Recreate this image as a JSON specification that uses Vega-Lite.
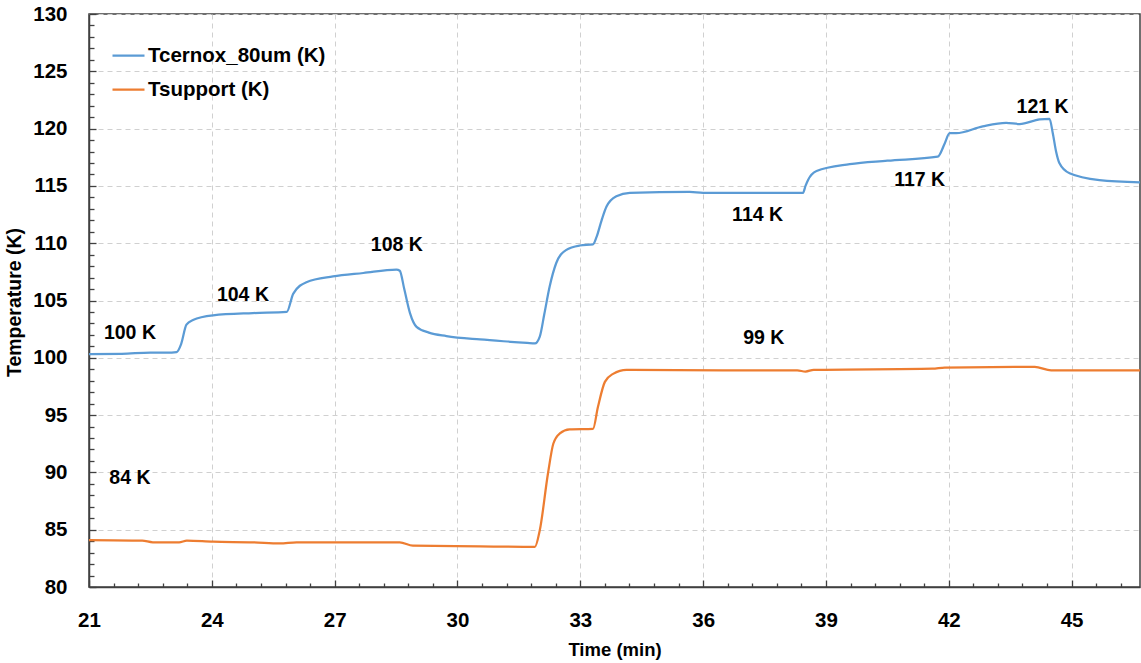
{
  "$schema": "https://vega.github.io/schema/vega-lite/v6.json",
  "autosize": {"type": "none"},
  "width": 1051,
  "height": 573,
  "padding": {"left": 89, "top": 14, "right": 1, "bottom": 76},
  "background": "white",
  "config": {
    "font": "Liberation Sans",
    "view": {"stroke": "#404040", "strokeWidth": 1.5},
    "axis": {
      "labelFont": "Liberation Sans", "labelFontWeight": "bold", "labelFontSize": 20.5, "labelColor": "#000000", "labelFlush": false,
      "titleFont": "Liberation Sans", "titleFontWeight": "bold", "titleFontSize": 18.5, "titleColor": "#000000",
      "domainColor": "#404040", "domainWidth": 1.5, "tickColor": "#404040", "tickWidth": 1.3,
      "gridColor": "#d0d0d0", "gridDash": [5, 4], "gridWidth": 1
    }
  },
  "datasets": {
    "lines": [
      {"t": 21.0, "T": 100.33, "series": "Tcernox_80um (K)"},
      {"t": 21.8, "T": 100.35, "series": "Tcernox_80um (K)"},
      {"t": 22.5, "T": 100.45, "series": "Tcernox_80um (K)"},
      {"t": 22.9, "T": 100.45, "series": "Tcernox_80um (K)"},
      {"t": 23.14, "T": 100.5, "series": "Tcernox_80um (K)"},
      {"t": 23.25, "T": 101.2, "series": "Tcernox_80um (K)"},
      {"t": 23.38, "T": 102.9, "series": "Tcernox_80um (K)"},
      {"t": 23.54, "T": 103.3, "series": "Tcernox_80um (K)"},
      {"t": 24.03, "T": 103.7, "series": "Tcernox_80um (K)"},
      {"t": 25.0, "T": 103.9, "series": "Tcernox_80um (K)"},
      {"t": 25.83, "T": 104.0, "series": "Tcernox_80um (K)"},
      {"t": 25.99, "T": 105.6, "series": "Tcernox_80um (K)"},
      {"t": 26.31, "T": 106.6, "series": "Tcernox_80um (K)"},
      {"t": 26.96, "T": 107.1, "series": "Tcernox_80um (K)"},
      {"t": 27.7, "T": 107.4, "series": "Tcernox_80um (K)"},
      {"t": 28.51, "T": 107.7, "series": "Tcernox_80um (K)"},
      {"t": 28.59, "T": 107.6, "series": "Tcernox_80um (K)"},
      {"t": 28.7, "T": 106.0, "series": "Tcernox_80um (K)"},
      {"t": 28.84, "T": 103.9, "series": "Tcernox_80um (K)"},
      {"t": 29.0, "T": 102.7, "series": "Tcernox_80um (K)"},
      {"t": 29.3, "T": 102.2, "series": "Tcernox_80um (K)"},
      {"t": 29.73, "T": 101.9, "series": "Tcernox_80um (K)"},
      {"t": 30.55, "T": 101.6, "series": "Tcernox_80um (K)"},
      {"t": 31.3, "T": 101.4, "series": "Tcernox_80um (K)"},
      {"t": 31.7, "T": 101.3, "series": "Tcernox_80um (K)"},
      {"t": 31.89, "T": 101.25, "series": "Tcernox_80um (K)"},
      {"t": 32.01, "T": 101.85, "series": "Tcernox_80um (K)"},
      {"t": 32.12, "T": 103.8, "series": "Tcernox_80um (K)"},
      {"t": 32.25, "T": 106.2, "series": "Tcernox_80um (K)"},
      {"t": 32.41, "T": 108.25, "series": "Tcernox_80um (K)"},
      {"t": 32.65, "T": 109.4, "series": "Tcernox_80um (K)"},
      {"t": 32.99, "T": 109.8, "series": "Tcernox_80um (K)"},
      {"t": 33.31, "T": 109.9, "series": "Tcernox_80um (K)"},
      {"t": 33.4, "T": 110.57, "series": "Tcernox_80um (K)"},
      {"t": 33.52, "T": 112.0, "series": "Tcernox_80um (K)"},
      {"t": 33.64, "T": 113.2, "series": "Tcernox_80um (K)"},
      {"t": 33.88, "T": 114.1, "series": "Tcernox_80um (K)"},
      {"t": 34.21, "T": 114.4, "series": "Tcernox_80um (K)"},
      {"t": 35.67, "T": 114.47, "series": "Tcernox_80um (K)"},
      {"t": 36.0, "T": 114.4, "series": "Tcernox_80um (K)"},
      {"t": 38.44, "T": 114.4, "series": "Tcernox_80um (K)"},
      {"t": 38.5, "T": 115.0, "series": "Tcernox_80um (K)"},
      {"t": 38.56, "T": 115.5, "series": "Tcernox_80um (K)"},
      {"t": 38.77, "T": 116.3, "series": "Tcernox_80um (K)"},
      {"t": 39.58, "T": 116.9, "series": "Tcernox_80um (K)"},
      {"t": 40.5, "T": 117.2, "series": "Tcernox_80um (K)"},
      {"t": 41.73, "T": 117.55, "series": "Tcernox_80um (K)"},
      {"t": 41.9, "T": 118.7, "series": "Tcernox_80um (K)"},
      {"t": 42.02, "T": 119.6, "series": "Tcernox_80um (K)"},
      {"t": 42.18, "T": 119.6, "series": "Tcernox_80um (K)"},
      {"t": 42.83, "T": 120.2, "series": "Tcernox_80um (K)"},
      {"t": 43.4, "T": 120.5, "series": "Tcernox_80um (K)"},
      {"t": 43.73, "T": 120.4, "series": "Tcernox_80um (K)"},
      {"t": 44.22, "T": 120.8, "series": "Tcernox_80um (K)"},
      {"t": 44.46, "T": 120.85, "series": "Tcernox_80um (K)"},
      {"t": 44.54, "T": 119.6, "series": "Tcernox_80um (K)"},
      {"t": 44.62, "T": 118.0, "series": "Tcernox_80um (K)"},
      {"t": 44.7, "T": 117.0, "series": "Tcernox_80um (K)"},
      {"t": 44.95, "T": 116.1, "series": "Tcernox_80um (K)"},
      {"t": 45.68, "T": 115.5, "series": "Tcernox_80um (K)"},
      {"t": 46.67, "T": 115.3, "series": "Tcernox_80um (K)"},
      {"t": 21.0, "T": 84.1, "series": "Tsupport (K)"},
      {"t": 22.3, "T": 84.05, "series": "Tsupport (K)"},
      {"t": 22.56, "T": 83.9, "series": "Tsupport (K)"},
      {"t": 23.2, "T": 83.9, "series": "Tsupport (K)"},
      {"t": 23.39, "T": 84.05, "series": "Tsupport (K)"},
      {"t": 24.03, "T": 83.95, "series": "Tsupport (K)"},
      {"t": 25.0, "T": 83.9, "series": "Tsupport (K)"},
      {"t": 25.66, "T": 83.8, "series": "Tsupport (K)"},
      {"t": 26.07, "T": 83.9, "series": "Tsupport (K)"},
      {"t": 28.59, "T": 83.9, "series": "Tsupport (K)"},
      {"t": 28.91, "T": 83.6, "series": "Tsupport (K)"},
      {"t": 30.55, "T": 83.55, "series": "Tsupport (K)"},
      {"t": 31.89, "T": 83.5, "series": "Tsupport (K)"},
      {"t": 32.01, "T": 84.95, "series": "Tsupport (K)"},
      {"t": 32.21, "T": 89.9, "series": "Tsupport (K)"},
      {"t": 32.34, "T": 92.5, "series": "Tsupport (K)"},
      {"t": 32.5, "T": 93.4, "series": "Tsupport (K)"},
      {"t": 32.74, "T": 93.75, "series": "Tsupport (K)"},
      {"t": 33.31, "T": 93.8, "series": "Tsupport (K)"},
      {"t": 33.43, "T": 95.7, "series": "Tsupport (K)"},
      {"t": 33.6, "T": 97.9, "series": "Tsupport (K)"},
      {"t": 33.8, "T": 98.6, "series": "Tsupport (K)"},
      {"t": 34.13, "T": 98.95, "series": "Tsupport (K)"},
      {"t": 36.6, "T": 98.9, "series": "Tsupport (K)"},
      {"t": 38.3, "T": 98.9, "series": "Tsupport (K)"},
      {"t": 38.5, "T": 98.8, "series": "Tsupport (K)"},
      {"t": 38.7, "T": 98.95, "series": "Tsupport (K)"},
      {"t": 41.6, "T": 99.05, "series": "Tsupport (K)"},
      {"t": 41.9, "T": 99.15, "series": "Tsupport (K)"},
      {"t": 44.1, "T": 99.2, "series": "Tsupport (K)"},
      {"t": 44.5, "T": 98.9, "series": "Tsupport (K)"},
      {"t": 46.67, "T": 98.9, "series": "Tsupport (K)"}
    ],
    "labels": [
      {"t": 22.0, "T": 102.2, "label": "100 K"},
      {"t": 24.76, "T": 105.5, "label": "104 K"},
      {"t": 28.52, "T": 109.85, "label": "108 K"},
      {"t": 37.33, "T": 112.45, "label": "114 K"},
      {"t": 41.29, "T": 115.5, "label": "117 K"},
      {"t": 44.29, "T": 121.9, "label": "121 K"},
      {"t": 37.48, "T": 101.7, "label": "99 K"},
      {"t": 22.0, "T": 89.5, "label": "84 K"}
    ]
  },
  "resolve": {"axis": {"x": "independent", "y": "independent"}},
  "layer": [
    {
      "data": {"name": "lines"},
      "mark": {"type": "line", "strokeWidth": 2.25, "interpolate": "monotone"},
      "encoding": {
        "x": {"field": "t", "type": "quantitative", "title": "Time (min)",
              "scale": {"domain": [21, 46.67], "nice": false, "zero": false},
              "axis": {"orient": "bottom", "values": [21, 24, 27, 30, 33, 36, 39, 42, 45], "grid": true, "tickSize": -7, "labelPadding": 30, "titlePadding": 10}},
        "y": {"field": "T", "type": "quantitative", "title": "Temperature (K)",
              "scale": {"domain": [80, 130], "nice": false, "zero": false},
              "axis": {"orient": "left", "values": [80, 85, 90, 95, 100, 105, 110, 115, 120, 125, 130], "grid": true, "tickSize": -7, "labelPadding": 29, "titleFontSize": 19.5, "titleX": -75, "titleY": 288, "titleBaseline": "middle"}},
        "color": {"field": "series", "type": "nominal", "title": null,
                  "scale": {"domain": ["Tcernox_80um (K)", "Tsupport (K)"], "range": ["#5B9BD5", "#ED7D31"]},
                  "legend": {"orient": "none", "legendX": 22, "legendY": 24, "symbolType": "stroke", "symbolSize": 1024, "symbolStrokeWidth": 2.25,
                             "labelFont": "Liberation Sans", "labelFontWeight": "bold", "labelFontSize": 20.5, "labelColor": "#000000", "labelOffset": 2, "labelLimit": 400, "rowPadding": 6}}
      }
    },
    {
      "data": {"name": "labels"},
      "mark": {"type": "text", "font": "Liberation Sans", "fontWeight": "bold", "fontSize": 19.5, "color": "#000000", "align": "center", "baseline": "middle"},
      "encoding": {
        "x": {"field": "t", "type": "quantitative",
              "axis": {"orient": "bottom", "title": null, "labels": false, "grid": false, "domain": false, "tickSize": -4,
                       "values": [21.6, 22.2, 22.8, 23.4, 24.6, 25.2, 25.8, 26.4, 27.6, 28.2, 28.8, 29.4, 30.6, 31.2, 31.8, 32.4, 33.6, 34.2, 34.8, 35.4, 36.6, 37.2, 37.8, 38.4, 39.6, 40.2, 40.8, 41.4, 42.6, 43.2, 43.8, 44.4, 45.6, 46.2]}},
        "y": {"field": "T", "type": "quantitative",
              "axis": {"orient": "left", "title": null, "labels": false, "grid": false, "domain": false, "tickSize": -5,
                       "values": [81, 82, 83, 84, 86, 87, 88, 89, 91, 92, 93, 94, 96, 97, 98, 99, 101, 102, 103, 104, 106, 107, 108, 109, 111, 112, 113, 114, 116, 117, 118, 119, 121, 122, 123, 124, 126, 127, 128, 129]}},
        "text": {"field": "label"}
      }
    }
  ]
}
